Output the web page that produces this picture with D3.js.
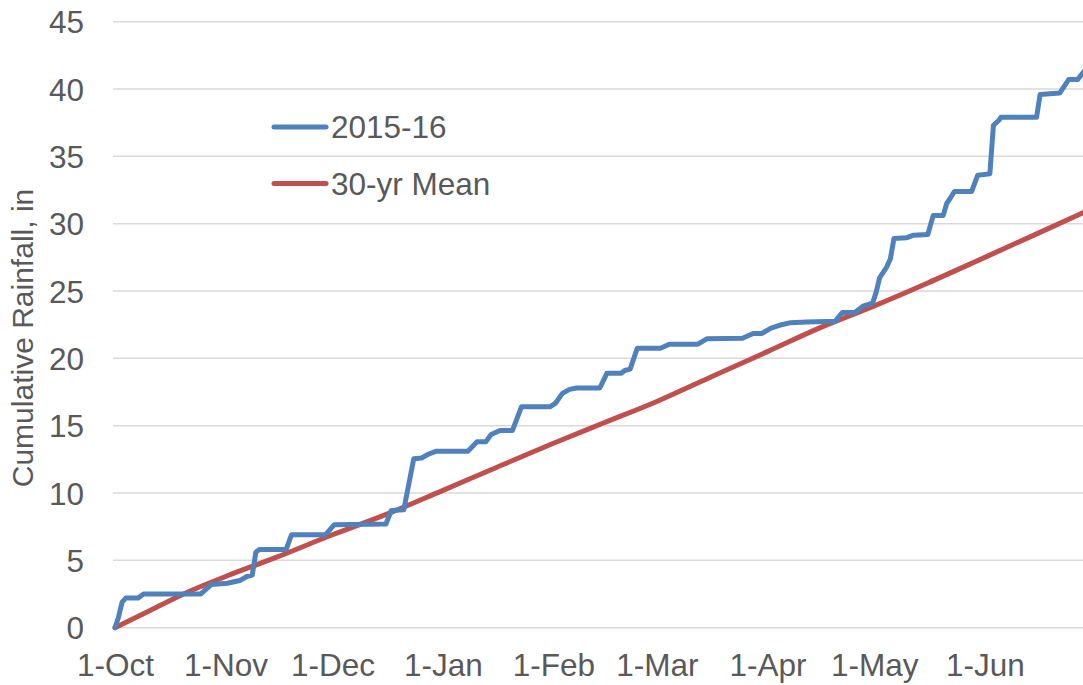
<!DOCTYPE html>
<html>
<head>
<meta charset="utf-8">
<script src="https://cdn.jsdelivr.net/npm/d3@7"></script>
<style>
  html, body { margin: 0; padding: 0; background: #fff; }
  svg { display: block; }
  text { font-family: "Liberation Sans", Arial, sans-serif; fill: #595959; }
</style>
</head>
<body>
<svg id="chart" width="1083" height="685"></svg>
<script>
// ---- Data (days after 1-Oct-2015, cumulative rainfall in inches) ----
const seriesNames = ["2015-16", "30-yr Mean"];
const yTicks = [0, 5, 10, 15, 20, 25, 30, 35, 40, 45];

const obsDays = [0, 1, 2, 3, 6.5, 8, 24, 27, 31.5, 35, 37, 38.5, 39.5, 40.5, 48, 49.5, 59, 61.5, 76, 77.5, 81,
  83.8, 86, 88, 90, 99, 101.5, 104, 105.5, 108, 111.5, 114, 122, 123.5, 125.5, 127.5, 129.5, 136, 138, 142,
  143, 144.5, 146.5, 153, 155.5, 163.5, 166, 176, 179, 181.5, 184, 187, 189.5, 194, 202, 204, 207.5, 210,
  212.5, 213.5, 214.5, 216.5, 217.5, 218.5, 222, 224, 228, 229.5, 232.3, 233.3, 234.3, 235.5, 240.3, 242,
  245.4, 246.4, 248, 248.5, 258.5, 259.5, 265, 267.5, 270, 271.5, 273];
const obsValues = [0, 0.8, 1.9, 2.2, 2.2, 2.5, 2.5, 3.2, 3.3, 3.5, 3.8, 3.9, 5.6, 5.8, 5.8, 6.9, 6.9, 7.65, 7.7, 8.7, 8.75,
  12.55, 12.6, 12.9, 13.1, 13.1, 13.8, 13.8, 14.35, 14.65, 14.65, 16.4, 16.4, 16.65, 17.4, 17.7, 17.8, 17.8, 18.9, 18.9,
  19.1, 19.2, 20.75, 20.75, 21.05, 21.05, 21.45, 21.5, 21.85, 21.85, 22.25, 22.5, 22.65, 22.7, 22.75, 23.4, 23.4, 23.9,
  24.1, 24.9, 26.0, 26.8, 27.4, 28.9, 28.95, 29.15, 29.2, 30.6, 30.6, 31.5, 31.9, 32.4, 32.4, 33.6,
  33.7, 37.3, 37.7, 37.9, 37.9, 39.6, 39.7, 40.7, 40.7, 41.2, 41.7];

const meanDays = [0, 10, 20, 31, 45, 61, 75, 92, 107, 123, 137, 152, 167, 183, 198, 213, 228, 244, 259, 273];
const meanValues = [0, 1.3, 2.6, 3.8, 5.2, 6.9, 8.3, 10.2, 11.9, 13.7, 15.2, 16.8, 18.6, 20.5, 22.3, 23.9, 25.6, 27.5, 29.3, 31.0];

const colors = ["#4F81BD", "#C0504D"];

// ---- Layout ----
const W = 1083, H = 685;
const start = Date.UTC(2015, 9, 1);
const dayMs = 864e5;
const toDate = d => new Date(start + d * dayMs);

const x = d3.scaleUtc()
  .domain([toDate(0), toDate(273)])
  .range([115, 115 + 273 * 3.565]);
const y = d3.scaleLinear().domain([0, 45]).range([627.7, 21.7]);

const svg = d3.select("#chart");

// gridlines
svg.append("g")
  .selectAll("line")
  .data(yTicks)
  .join("line")
  .attr("x1", 113).attr("x2", W)
  .attr("y1", d => y(d)).attr("y2", d => y(d))
  .attr("stroke", "#d9d9d9").attr("stroke-width", 1.5);

// y axis labels
const yAxis = d3.axisLeft(y).tickValues(yTicks).tickSize(0).tickPadding(0);
const gy = svg.append("g").attr("transform", "translate(84,0)").call(yAxis);
gy.select(".domain").remove();
gy.selectAll("text")
  .attr("font-size", "31.5px")
  .attr("font-family", "Liberation Sans, Arial, sans-serif")
  .attr("fill", "#595959")
  .attr("dy", "0.35em");

// x axis labels
const xAxis = d3.axisBottom(x)
  .ticks(d3.utcMonth.every(1))
  .tickFormat(d3.utcFormat("%-d-%b"))
  .tickSize(0).tickPadding(0);
const gx = svg.append("g").attr("transform", "translate(0,654)").call(xAxis);
gx.select(".domain").remove();
gx.selectAll("text")
  .attr("font-size", "31.5px")
  .attr("font-family", "Liberation Sans, Arial, sans-serif")
  .attr("fill", "#595959")
  .attr("dy", "0.69em");

// y axis title
svg.append("text")
  .attr("transform", "translate(33,338) rotate(-90)")
  .attr("text-anchor", "middle")
  .attr("font-size", "30px")
  .text("Cumulative Rainfall, in");

// lines
const line = d3.line().x(d => x(toDate(d[0]))).y(d => y(d[1]));
const meanData = meanDays.map((d, i) => [d, meanValues[i]]);
const obsData = obsDays.map((d, i) => [d, obsValues[i]]);

svg.append("path")
  .datum(meanData)
  .attr("d", d3.line().x(d => x(toDate(d[0]))).y(d => y(d[1])).curve(d3.curveMonotoneX)(meanData))
  .attr("fill", "none").attr("stroke", colors[1])
  .attr("stroke-width", 5).attr("stroke-linejoin", "round").attr("stroke-linecap", "round");

svg.append("path")
  .datum(obsData)
  .attr("d", line(obsData))
  .attr("fill", "none").attr("stroke", colors[0])
  .attr("stroke-width", 5).attr("stroke-linejoin", "round").attr("stroke-linecap", "round");

// legend
const legend = svg.append("g");
seriesNames.forEach((name, i) => {
  const ly = 127 + i * 56.5;
  legend.append("line")
    .attr("x1", 274).attr("x2", 326)
    .attr("y1", ly).attr("y2", ly)
    .attr("stroke", colors[i]).attr("stroke-width", 5).attr("stroke-linecap", "round");
  legend.append("text")
    .attr("x", 331).attr("y", ly)
    .attr("dy", "0.35em")
    .attr("font-size", "31.5px")
    .text(name);
});
</script>
</body>
</html>
